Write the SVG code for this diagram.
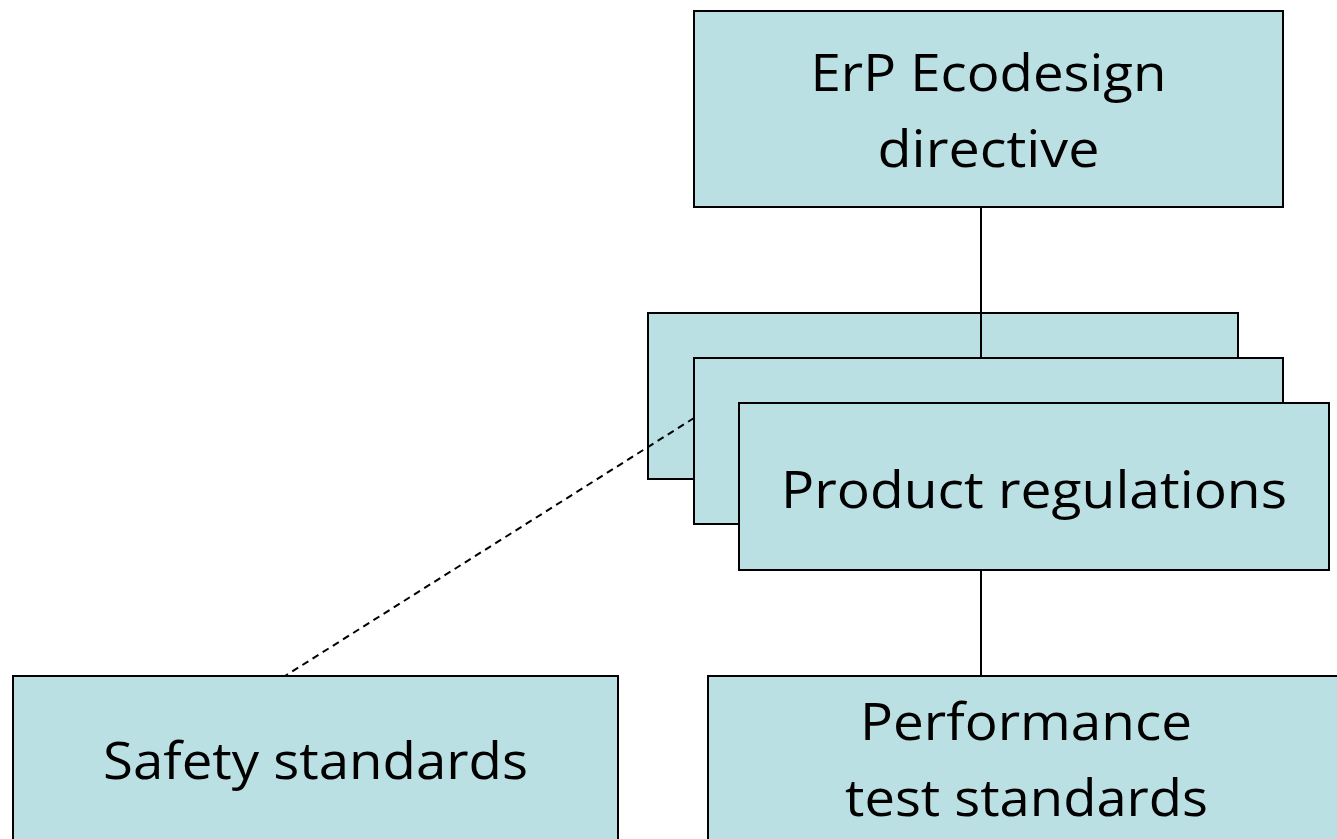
<svg xmlns="http://www.w3.org/2000/svg" width="1337" height="839" viewBox="0 0 1337 839">
<style>
.box{fill:#BBE0E3;stroke:#000;stroke-width:2}
.lbl{font-family:"Open Sans","Liberation Sans",sans-serif;font-size:52px;fill:#000;text-anchor:middle}
.conn{stroke:#000;stroke-width:2;fill:none}
.dash{stroke:#000;stroke-width:2;fill:none;stroke-dasharray:7 5}
</style>
<rect width="1337" height="839" fill="#fff"/>
<g id="directive">
<rect class="box" x="694" y="11" width="589" height="196"/>
<text class="lbl" x="988.5" y="91" textLength="356" lengthAdjust="spacingAndGlyphs">ErP Ecodesign</text>
<text class="lbl" x="988.5" y="167" textLength="222" lengthAdjust="spacingAndGlyphs">directive</text>
</g>
<g id="regulation-back">
<rect class="box" x="648" y="313" width="590" height="166"/>
</g>
<g id="connectors">
<line class="conn" x1="981" y1="207" x2="981" y2="358"/>
<line class="dash" x1="694" y1="418" x2="285" y2="676"/>
<line class="conn" x1="981" y1="570" x2="981" y2="676"/>
</g>
<g id="regulation-mid">
<rect class="box" x="694" y="358" width="589" height="166"/>
</g>
<g id="regulations">
<rect class="box" x="739" y="403" width="590" height="167"/>
<text class="lbl" x="1034" y="508" textLength="506" lengthAdjust="spacingAndGlyphs">Product regulations</text>
</g>
<g id="safety">
<rect class="box" x="13" y="676" width="605" height="180"/>
<text class="lbl" x="315.5" y="779" textLength="425" lengthAdjust="spacingAndGlyphs">Safety standards</text>
</g>
<g id="performance">
<rect class="box" x="708" y="676" width="640" height="180"/>
<text class="lbl" x="1026" y="740" textLength="332" lengthAdjust="spacingAndGlyphs">Performance</text>
<text class="lbl" x="1026.5" y="816" textLength="363" lengthAdjust="spacingAndGlyphs">test standards</text>
</g>
</svg>
